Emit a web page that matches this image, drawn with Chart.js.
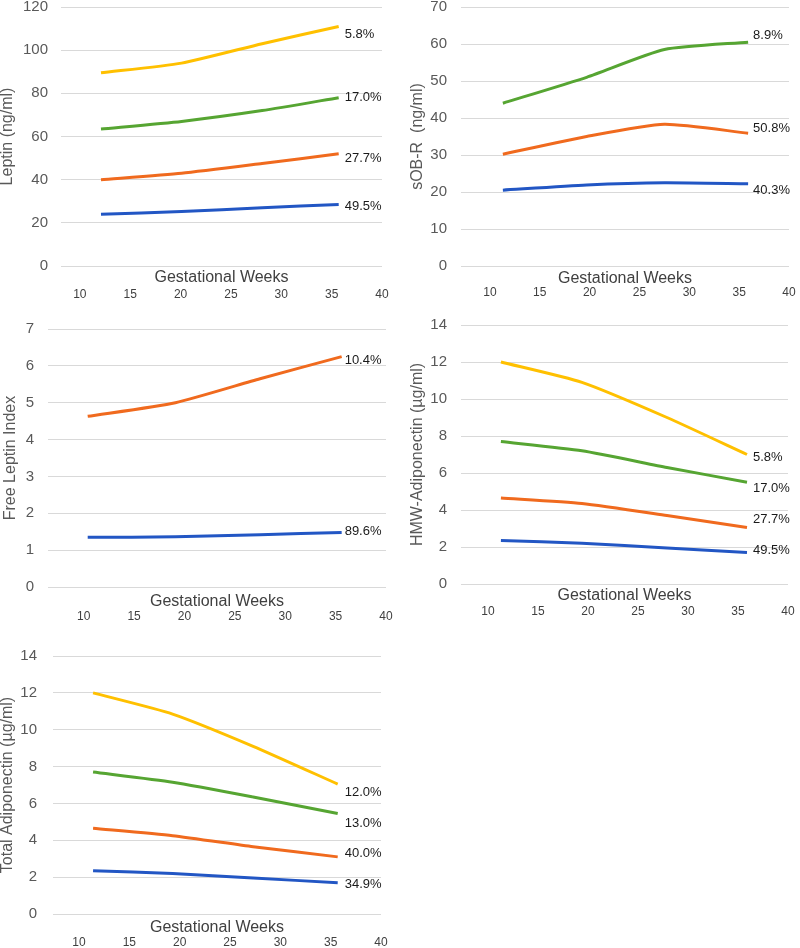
<!DOCTYPE html>
<html><head><meta charset="utf-8">
<script src="https://cdn.jsdelivr.net/npm/chart.js@4.4.1/dist/chart.umd.min.js"></script>
<style>
html,body{margin:0;padding:0;background:#fff;}
#wrap{position:relative;width:800px;height:948px;overflow:hidden;background:#fff;}
canvas{position:absolute;}
</style></head><body><div id="wrap">
<canvas id="c1" width="400" height="310" style="left:0;top:0;width:400px;height:310px"></canvas>
<canvas id="c2" width="400" height="310" style="left:400px;top:0;width:400px;height:310px"></canvas>
<canvas id="c3" width="400" height="320" style="left:0;top:310px;width:400px;height:320px"></canvas>
<canvas id="c4" width="400" height="320" style="left:400px;top:310px;width:400px;height:320px"></canvas>
<canvas id="c5" width="400" height="318" style="left:0;top:630px;width:400px;height:318px"></canvas>
</div>
<script>
// ---- data ----
const xTitle = 'Gestational Weeks';

const leptinWeeks  = [12.1, 20.1, 28.1, 35.7];
const leptinYellow = [89.5, 94, 103, 111];
const leptinGreen  = [63.5, 67, 72, 78];
const leptinOrange = [40, 43, 47.5, 52];
const leptinBlue   = [24, 25.2, 27, 28.5];
const leptinPct    = ['5.8%', '17.0%', '27.7%', '49.5%'];

const sobrWeeks  = [11.3, 19.7, 27.5, 35.9];
const sobrGreen  = [44, 51, 58.5, 60.5];
const sobrOrange = [30.2, 35, 38.3, 35.9];
const sobrBlue   = [20.5, 21.9, 22.5, 22.2];
const sobrPct    = ['8.9%', '50.8%', '40.3%'];

const fliWeeks  = [10.4, 19.1, 27.5, 35.6];
const fliOrange = [4.63, 5.0, 5.65, 6.25];
const fliBlue   = [1.35, 1.36, 1.42, 1.48];
const fliPct    = ['10.4%', '89.6%'];

const hmwWeeks  = [11.3, 19.4, 27.9, 35.9];
const hmwYellow = [12.0, 10.9, 9.0, 7.0];
const hmwGreen  = [7.7, 7.2, 6.3, 5.5];
const hmwOrange = [4.65, 4.35, 3.7, 3.05];
const hmwBlue   = [2.35, 2.2, 1.95, 1.7];
const hmwPct    = ['5.8%', '17.0%', '27.7%', '49.5%'];

const totWeeks  = [11.4, 19.3, 27.3, 35.7];
const totYellow = [12.0, 10.85, 9.1, 7.05];
const totGreen  = [7.7, 7.15, 6.35, 5.45];
const totOrange = [4.65, 4.25, 3.65, 3.1];
const totBlue   = [2.35, 2.2, 1.95, 1.7];
const totPct    = ['12.0%', '13.0%', '40.0%', '34.9%'];

// ---- styling ----
const FAM = '"Liberation Sans", Arial, sans-serif';
const YELLOW = '#FFC000', GREEN = '#56A532', ORANGE = '#F06A1E', BLUE = '#2256C4';

const endLabelPlugin = {
  id: 'endLabels',
  afterDatasetsDraw(chart, args, opts) {
    const ctx = chart.ctx;
    ctx.save();
    ctx.font = '13px ' + FAM;
    ctx.fillStyle = '#1a1a1a';
    ctx.textAlign = 'left';
    ctx.textBaseline = 'middle';
    chart.data.datasets.forEach((ds, i) => {
      const meta = chart.getDatasetMeta(i);
      const pt = meta.data[meta.data.length - 1];
      const dy = (opts.dy && opts.dy[i]) || 0;
      ctx.fillText(ds.label, pt.x + opts.dx, pt.y + dy);
    });
    ctx.restore();
  }
};

function panel(id, p) {
  new Chart(document.getElementById(id), {
    type: 'line',
    data: {
      datasets: p.series.map(s => ({
        label: s.label,
        data: p.weeks.map((w, i) => ({x: w, y: s.values[i]})),
        borderColor: s.color, backgroundColor: s.color,
        borderWidth: 3, pointRadius: 0, tension: 0.2, fill: false,
        xAxisID: 'x', yAxisID: 'y'
      }))
    },
    options: {
      responsive: false, animation: false, devicePixelRatio: 1,
      layout: {padding: {left: 0, top: p.top, right: p.padRight, bottom: 0}},
      plugins: {legend: {display: false}, tooltip: {enabled: false},
                endLabels: {dx: p.dx, dy: p.dy}},
      scales: {
        y: {
          min: 0, max: p.yMax,
          ticks: {stepSize: p.yStep, padding: p.yTickPad, color: '#595959', font: {size: 15, family: FAM}},
          grid: {color: '#d9d9d9', drawTicks: false, lineWidth: 1},
          border: {display: false},
          title: {display: true, text: p.yTitle, color: '#595959',
                  font: {size: 16, family: FAM, lineHeight: 1}, padding: {top: p.yTitlePad, bottom: 0}},
          afterFit(s) { s.width = p.left; s.paddingTop = 0; s.paddingBottom = 0; }
        },
        xt: {
          type: 'linear', position: 'bottom', weight: 0, min: p.xMin, max: 40,
          ticks: {display: false}, grid: {display: false, drawTicks: false}, border: {display: false},
          title: {display: true, text: xTitle, color: '#404040',
                  font: {size: 16, family: FAM, lineHeight: 1}, padding: 0},
          afterFit(s) { s.height = p.xtH; s.paddingLeft = 0; s.paddingRight = 0; }
        },
        x: {
          type: 'linear', position: 'bottom', weight: 1, min: p.xMin, max: 40,
          ticks: {stepSize: 5, includeBounds: false, autoSkip: false, maxRotation: 0, minRotation: 0,
                  padding: p.xTickPad, color: '#404040', font: {size: 12, family: FAM, lineHeight: 1}},
          grid: {display: false, drawTicks: false}, border: {display: false},
          afterFit(s) { s.height = p.xH; s.paddingLeft = 0; s.paddingRight = 0; }
        }
      }
    },
    plugins: [endLabelPlugin]
  });
}

panel('c1', {
  weeks: leptinWeeks,
  series: [
    {label: leptinPct[0], values: leptinYellow, color: YELLOW},
    {label: leptinPct[1], values: leptinGreen, color: GREEN},
    {label: leptinPct[2], values: leptinOrange, color: ORANGE},
    {label: leptinPct[3], values: leptinBlue, color: BLUE}
  ],
  yTitle: 'Leptin (ng/ml)', yMax: 120, yStep: 20,
  top: 7, left: 61, padRight: 18, xMin: 8.13, xtH: 20, xH: 24, xTickPad: 3,
  yTickPad: 13, yTitlePad: 0, dx: 6, dy: [8, 0, 5, 2]
});

panel('c2', {
  weeks: sobrWeeks,
  series: [
    {label: sobrPct[0], values: sobrGreen, color: GREEN},
    {label: sobrPct[1], values: sobrOrange, color: ORANGE},
    {label: sobrPct[2], values: sobrBlue, color: BLUE}
  ],
  yTitle: 'sOB-R  (ng/ml)', yMax: 70, yStep: 10,
  top: 7, left: 61, padRight: 11, xMin: 7.10, xtH: 21, xH: 23, xTickPad: 0,
  yTickPad: 14, yTitlePad: 10, dx: 5, dy: [-7, -5, 7]
});

panel('c3', {
  weeks: fliWeeks,
  series: [
    {label: fliPct[0], values: fliOrange, color: ORANGE},
    {label: fliPct[1], values: fliBlue, color: BLUE}
  ],
  yTitle: 'Free Leptin Index', yMax: 7, yStep: 1,
  top: 19, left: 48, padRight: 14, xMin: 6.46, xtH: 23, xH: 20, xTickPad: 1,
  yTickPad: 14, yTitlePad: 3, dx: 3, dy: [4, -1]
});

panel('c4', {
  weeks: hmwWeeks,
  series: [
    {label: hmwPct[0], values: hmwYellow, color: YELLOW},
    {label: hmwPct[1], values: hmwGreen, color: GREEN},
    {label: hmwPct[2], values: hmwOrange, color: ORANGE},
    {label: hmwPct[3], values: hmwBlue, color: BLUE}
  ],
  yTitle: 'HMW-Adiponectin (µg/ml)', yMax: 14, yStep: 2,
  top: 15, left: 61, padRight: 12, xMin: 7.31, xtH: 20, xH: 26, xTickPad: 2,
  yTickPad: 14, yTitlePad: 10, dx: 6, dy: [3, 6, -8, -2]
});

panel('c5', {
  weeks: totWeeks,
  series: [
    {label: totPct[0], values: totYellow, color: YELLOW},
    {label: totPct[1], values: totGreen, color: GREEN},
    {label: totPct[2], values: totOrange, color: ORANGE},
    {label: totPct[3], values: totBlue, color: BLUE}
  ],
  yTitle: 'Total Adiponectin (µg/ml)', yMax: 14, yStep: 2,
  top: 26, left: 53, padRight: 19, xMin: 7.42, xtH: 22, xH: 12, xTickPad: 1,
  yTickPad: 16, yTitlePad: 0, dx: 7, dy: [8, 10, -3, 2]
});
</script>
</body></html>
